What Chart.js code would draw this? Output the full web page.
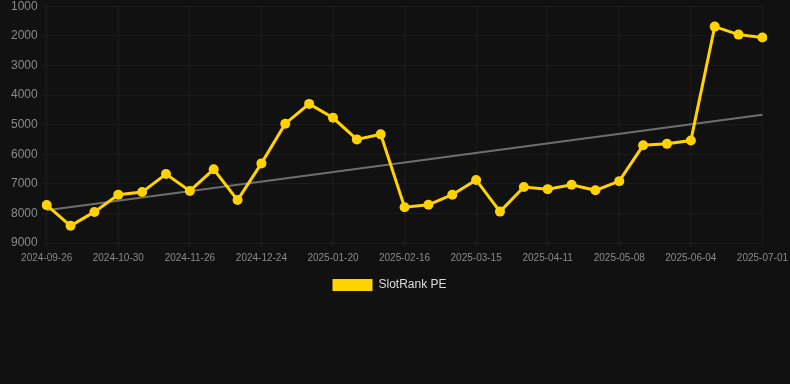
<!DOCTYPE html>
<html>
<head>
<meta charset="utf-8">
<script src="https://cdn.jsdelivr.net/npm/chart.js@4"></script>
<style>
  html, body { margin: 0; padding: 0; background: #111111; overflow: hidden; }
  #wrap { width: 793px; height: 307px; margin-top: -6px; }
</style>
</head>
<body>
<div id="wrap"><canvas id="rankChart"></canvas></div>
<script>
// DATA
const dates = [
    '2024-09-26', '2024-10-07', '2024-10-18', '2024-10-30', '2024-11-08', '2024-11-17',
    '2024-11-26', '2024-12-05', '2024-12-14', '2024-12-24', '2025-01-02', '2025-01-11',
    '2025-01-20', '2025-01-29', '2025-02-07', '2025-02-16', '2025-02-25', '2025-03-06',
    '2025-03-15', '2025-03-24', '2025-04-02', '2025-04-11', '2025-04-20', '2025-04-29',
    '2025-05-08', '2025-05-17', '2025-05-26', '2025-06-04', '2025-06-13', '2025-06-22',
    '2025-07-01'
];
const rankPE = [
    7720, 8420, 7950, 7370, 7280, 6670, 7240, 6510, 7550, 6310, 4970, 4300,
    4770, 5500, 5330, 7790, 7710, 7370, 6870, 7940, 7110, 7180, 7030, 7220,
    6910, 5700, 5650, 5540, 1690, 1960, 2060
];
// trend line: only the two ends are known
const trendStart = 7890;
const trendEnd = 4670;
const yTicks = [1000, 2000, 3000, 4000, 5000, 6000, 7000, 8000, 9000];

const trend = dates.map((_, i) => i === 0 ? trendStart : (i === dates.length - 1 ? trendEnd : null));

const ctx = document.getElementById('rankChart').getContext('2d');
new Chart(ctx, {
    type: 'line',
    data: {
        labels: dates,
        datasets: [
            {
                label: 'SlotRank PE',
                data: rankPE,
                borderColor: '#ffd200',
                backgroundColor: '#ffd200',
                borderWidth: 3,
                pointRadius: 5,
                pointBackgroundColor: '#ffd200',
                pointBorderWidth: 0,
                tension: 0,
                order: 1
            },
            {
                label: 'trend',
                data: trend,
                spanGaps: true,
                borderColor: '#6e6e6e',
                borderWidth: 2,
                pointRadius: 0,
                order: 2
            }
        ]
    },
    options: {
        responsive: true,
        maintainAspectRatio: false,
        animation: false,
        layout: { padding: { top: 0, right: 20, left: 6, bottom: 0 } },
        plugins: {
            legend: {
                position: 'bottom',
                labels: {
                    color: '#dddddd',
                    boxWidth: 40,
                    boxHeight: 12,
                    font: { family: 'Arial, Liberation Sans', size: 12 },
                    generateLabels: chart => Chart.defaults.plugins.legend.labels.generateLabels(chart)
                        .filter(item => item.text !== 'trend')
                        .map(item => Object.assign(item, { lineWidth: 0 }))
                }
            },
            tooltip: { enabled: false }
        },
        scales: {
            x: {
                offset: false,
                grid: { color: 'rgba(255,255,255,0.045)', drawTicks: true, tickLength: 4 },
                border: { display: false },
                ticks: {
                    color: '#8a8a8a',
                    autoSkip: false,
                    maxRotation: 0,
                    padding: 5,
                    font: { family: 'Arial, Liberation Sans', size: 10 },
                    callback: function (val, i) { return i % 3 === 0 ? this.getLabelForValue(val) : null; }
                }
            },
            y: {
                reverse: true,
                min: yTicks[0],
                max: yTicks[yTicks.length - 1],
                afterBuildTicks: axis => { axis.ticks = yTicks.map(v => ({ value: v })); },
                grid: { color: 'rgba(255,255,255,0.045)', tickLength: 4 },
                border: { display: false },
                ticks: {
                    color: '#8a8a8a',
                    padding: 5,
                    font: { family: 'Arial, Liberation Sans', size: 12 },
                    callback: v => String(v)
                }
            }
        }
    }
});
</script>
</body>
</html>
